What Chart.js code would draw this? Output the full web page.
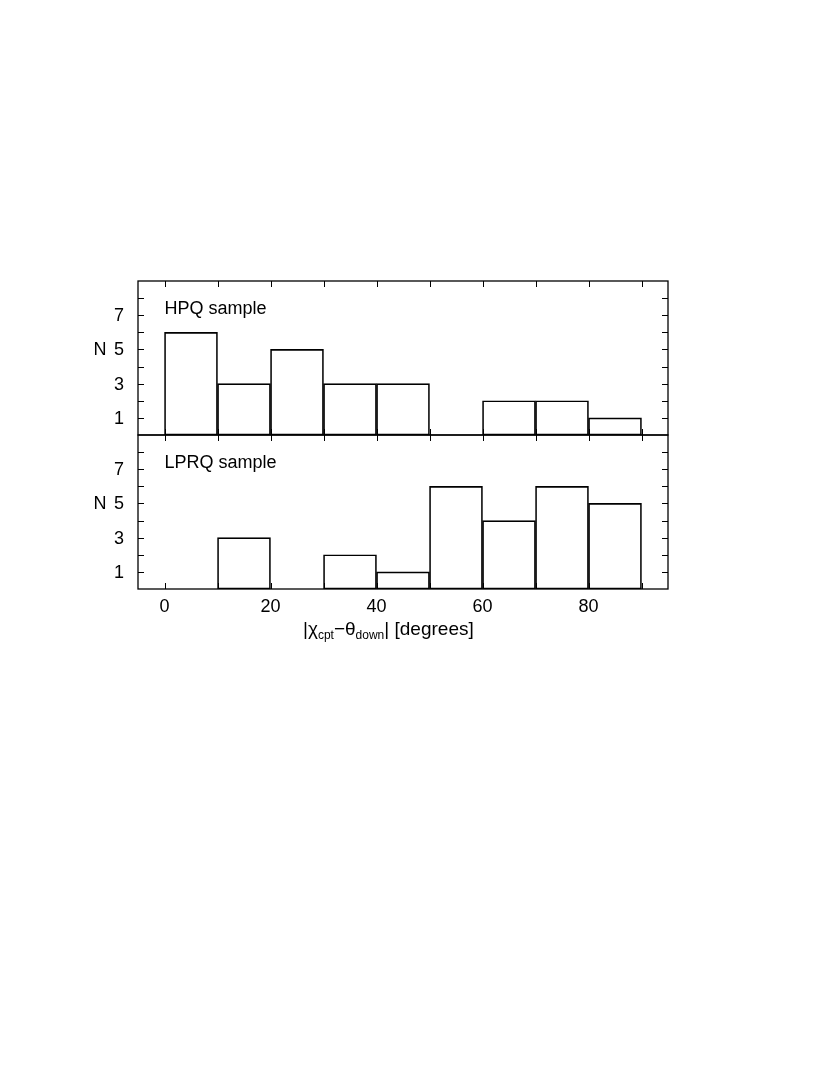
<!DOCTYPE html>
<html>
<head>
<meta charset="utf-8">
<script src="https://cdn.jsdelivr.net/npm/chart.js@4.4.1/dist/chart.umd.min.js"></script>
<style>
  body { margin: 0; background: #fff; }
  #wrap { position: relative; width: 830px; height: 1075px; }
  #wrap canvas { position: absolute; left: 0; top: 0; }
  #xtitle {
    position: absolute; left: 303px; top: 618px;
    font: 19px "Liberation Sans", Arial, sans-serif; color: #000; white-space: nowrap;
  }
  #xtitle sub { font-size: 12px; vertical-align: -4px; line-height: 0; }
</style>
</head>
<body>
<div id="wrap">
  <canvas id="topPanel" width="830" height="1075"></canvas>
  <canvas id="bottomPanel" width="830" height="1075"></canvas>
  <div id="xtitle">|χ<sub>cpt</sub>−θ<sub>down</sub>| [degrees]</div>
</div>
<script>
// histogram bins (centres of 10-degree bins)
const binCenters = [5, 15, 25, 35, 45, 55, 65, 75, 85];
const hpqCounts = [6, 3, 5, 3, 3, 0, 2, 2, 1];
const lprqCounts = [0, 3, 0, 2, 1, 6, 4, 6, 5];
const xTickValues = [0, 20, 40, 60, 80];
const yTickLabels = [1, 3, 5, 7];
const panelNames = ['HPQ sample', 'LPRQ sample'];

const FONT = '"Liberation Sans", Arial, sans-serif';

// frame, inward ticks, "N" and panel label
const framePlugin = {
  id: 'frame',
  afterDraw(chart, args, opts) {
    const ctx = chart.ctx, a = chart.chartArea;
    const xs = chart.scales.x, ys = chart.scales.y;
    ctx.save();
    ctx.strokeStyle = '#000';
    ctx.lineWidth = 1;
    ctx.beginPath();
    for (let v = 1; v <= 8; v++) {
      const py = Math.round(ys.getPixelForValue(v)) + 0.5;
      ctx.moveTo(a.left, py); ctx.lineTo(a.left + 6, py);
      ctx.moveTo(a.right, py); ctx.lineTo(a.right - 6, py);
    }
    for (let v = 0; v <= 90; v += 10) {
      const px = Math.round(xs.getPixelForValue(v)) + 0.5;
      ctx.moveTo(px, a.top); ctx.lineTo(px, a.top + 6);
      ctx.moveTo(px, a.bottom); ctx.lineTo(px, a.bottom - 6);
    }
    ctx.stroke();
    ctx.lineWidth = 1.3;
    ctx.strokeRect(a.left, a.top, a.right - a.left, a.bottom - a.top);

    ctx.fillStyle = '#000';
    ctx.font = '18px ' + FONT;
    ctx.textBaseline = 'middle';
    ctx.textAlign = 'center';
    ctx.fillText('N', 100, ys.getPixelForValue(5) + 1);
    ctx.textAlign = 'left';
    ctx.fillText(opts.label, xs.getPixelForValue(0), ys.getPixelForValue(7.35));
    ctx.restore();
  }
};

function makePanel(id, counts, label, isBottom) {
  return new Chart(document.getElementById(id), {
    type: 'bar',
    data: {
      datasets: [{
        data: binCenters.map((c, i) => ({ x: c, y: counts[i] })),
        backgroundColor: 'rgba(255,255,255,0)',
        borderColor: '#000',
        borderWidth: 1,
        borderSkipped: false,
        barPercentage: 1,
        categoryPercentage: 1
      }]
    },
    options: {
      responsive: false,
      devicePixelRatio: 1,
      animation: false,
      layout: {
        padding: isBottom
          ? { left: 0, right: 162, top: 435, bottom: 446 }
          : { left: 0, right: 162, top: 281, bottom: 640 }
      },
      plugins: {
        legend: { display: false },
        tooltip: { enabled: false },
        frame: { label: label }
      },
      scales: {
        x: {
          type: 'linear',
          min: -5, max: 95,
          offset: false,
          display: isBottom,
          grid: { display: false, drawTicks: false },
          border: { display: false },
          afterBuildTicks: s => { s.ticks = xTickValues.map(v => ({ value: v })); },
          afterFit: s => { s.height = isBottom ? 40 : 0; },
          ticks: { color: '#000', padding: 7, maxRotation: 0, autoSkip: false, font: { family: FONT, size: 18 } }
        },
        y: {
          min: 0, max: 9,
          grid: { display: false, drawTicks: false },
          border: { display: false },
          afterFit: s => { s.width = 138; },
          ticks: {
            stepSize: 1,
            autoSkip: false,
            color: '#000',
            padding: 14,
            labelOffset: 1,
            font: { family: FONT, size: 18 },
            callback: v => yTickLabels.includes(v) ? String(v) : ''
          }
        }
      }
    },
    plugins: [framePlugin]
  });
}

makePanel('topPanel', hpqCounts, panelNames[0], false);
makePanel('bottomPanel', lprqCounts, panelNames[1], true);
</script>
</body>
</html>
